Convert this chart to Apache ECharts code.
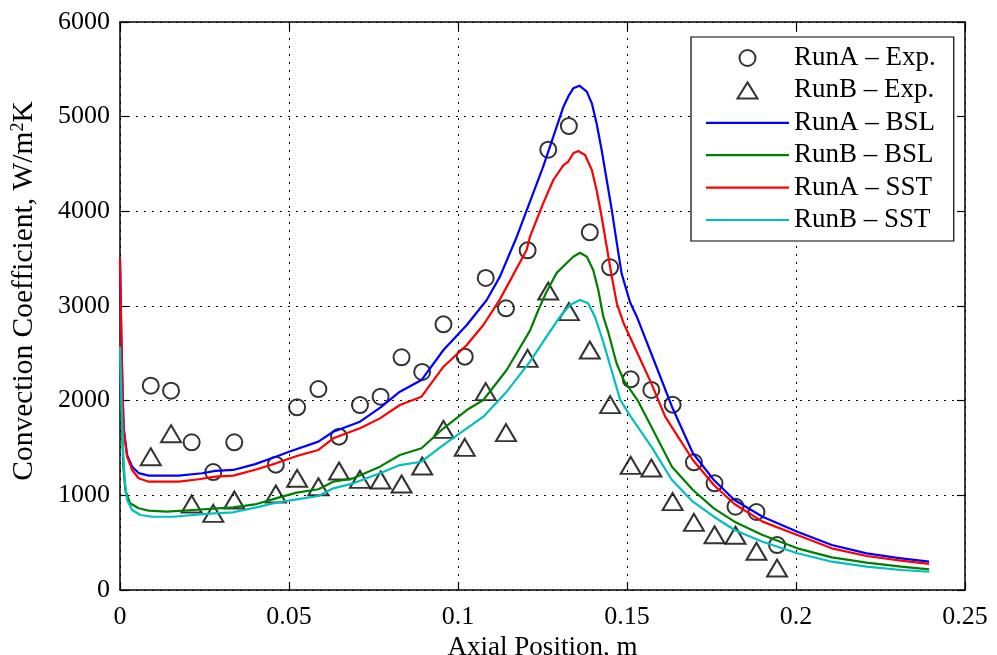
<!DOCTYPE html>
<html>
<head>
<meta charset="utf-8">
<title>Convection Coefficient vs Axial Position</title>
<script src="https://cdn.jsdelivr.net/npm/echarts@6/dist/echarts.min.js"></script>
<style>
  html, body { margin: 0; padding: 0; background: #fff; }
  #chart { width: 997px; height: 655px; }
</style>
</head>
<body>
<div id="chart"></div>
<script>
// Axis ticks
const xTicks = [0, 0.05, 0.1, 0.15, 0.2, 0.25];
const yTicks = [0, 1000, 2000, 3000, 4000, 5000, 6000];

// Series names
const seriesNames = ['RunA – Exp.', 'RunB – Exp.', 'RunA – BSL', 'RunB – BSL', 'RunA – SST', 'RunB – SST'];

// Measured points, axial position (m)
const expX = [0.0091, 0.0151, 0.0212, 0.0276, 0.0338, 0.0461, 0.0524, 0.0587, 0.0648, 0.0710,
              0.0771, 0.0833, 0.0894, 0.0957, 0.1020, 0.1082, 0.1142, 0.1206, 0.1267, 0.1328,
              0.1390, 0.1450, 0.1511, 0.1572, 0.1635, 0.1698, 0.1759, 0.1821, 0.1883, 0.1944];

// Measured convection coefficient, W/m2K
const runAExp = [2158, 2105, 1560, 1246, 1560, 1324, 1930, 2123, 1620, 1954,
                 2042, 2458, 2303, 2806, 2465, 3296, 2976, 3588, 4651, 4901,
                 3778, 3409, 2225, 2113, 1958, 1349, 1127, 880, 824, 475];
const runBExp = [1408, 1651, 908, 810, 951, 1014, 1180, 1091, 1257, 1169,
                 1162, 1120, 1310, 1697, 1507, 2095, 1662, 2447, 3158, 2940,
                 2535, 1958, 1317, 1289, 933, 715, 584, 578, 409, 232];

// Computed profiles, [axial position, coefficient]
const runABSL = [[0,3500],[0.0004,2700],[0.0008,2050],[0.0011,1710],[0.0021,1425],[0.0036,1302],[0.0055,1235],
  [0.0085,1208],[0.0174,1208],[0.0243,1233],[0.0282,1258],[0.0335,1268],[0.0400,1330],[0.0461,1408],
  [0.0500,1461],[0.0587,1567],[0.0631,1672],[0.0710,1778],[0.0771,1930],[0.0828,2095],[0.0892,2218],
  [0.0957,2535],[0.1026,2799],[0.1085,3063],[0.1124,3310],[0.1174,3732],[0.1213,4102],[0.1252,4472],
  [0.1282,4789],[0.1312,5105],[0.1326,5211],[0.1341,5299],[0.1359,5327],[0.1381,5264],[0.1396,5141],
  [0.1410,4930],[0.1425,4648],[0.1440,4331],[0.1455,4014],[0.1470,3662],[0.1484,3345],[0.1509,3040],
  [0.1529,2887],[0.1583,2395],[0.1633,1936],[0.1695,1444],[0.1757,1162],[0.1818,951],[0.1901,774],
  [0.2004,616],[0.2106,475],[0.2209,387],[0.2311,335],[0.2394,299]];

const runBBSL = [[0,2570],[0.0005,1800],[0.0010,1300],[0.0016,1050],[0.0030,916],[0.0055,863],[0.0085,838],
  [0.0138,827],[0.0217,845],[0.0276,860],[0.0335,873],[0.0404,908],[0.0461,968],[0.0523,1028],
  [0.0587,1064],[0.0631,1144],[0.0690,1180],[0.0769,1303],[0.0828,1426],[0.0892,1497],[0.0957,1708],
  [0.1026,1901],[0.1075,2007],[0.1144,2324],[0.1213,2740],[0.1238,2960],[0.1262,3150],[0.1292,3350],
  [0.1321,3451],[0.1341,3521],[0.1361,3563],[0.1381,3521],[0.1400,3380],[0.1415,3169],[0.1430,2887],
  [0.1444,2730],[0.1469,2395],[0.1490,2218],[0.1531,2007],[0.1572,1725],[0.1633,1303],[0.1695,1056],
  [0.1757,863],[0.1818,722],[0.1901,581],[0.2004,440],[0.2106,345],[0.2209,289],[0.2311,246],[0.2394,218]];

const runASST = [[0,3500],[0.0004,2650],[0.0008,2000],[0.0011,1690],[0.0021,1408],[0.0036,1268],[0.0055,1180],
  [0.0085,1144],[0.0174,1144],[0.0233,1170],[0.0282,1197],[0.0335,1208],[0.0400,1270],[0.0461,1338],
  [0.0523,1415],[0.0587,1479],[0.0631,1602],[0.0710,1708],[0.0769,1813],[0.0828,1954],[0.0892,2042],
  [0.0957,2359],[0.1026,2588],[0.1075,2799],[0.1124,3070],[0.1203,3591],[0.1213,3732],[0.1252,4084],
  [0.1282,4331],[0.1312,4489],[0.1326,4524],[0.1341,4613],[0.1356,4637],[0.1376,4595],[0.1396,4437],
  [0.1410,4225],[0.1425,3943],[0.1440,3626],[0.1455,3310],[0.1470,3028],[0.1490,2817],[0.1531,2500],
  [0.1572,2183],[0.1613,1831],[0.1695,1373],[0.1757,1109],[0.1818,908],[0.1901,722],[0.2004,581],
  [0.2106,440],[0.2209,359],[0.2311,310],[0.2394,275]];

const runBSST = [[0,2570],[0.0005,1900],[0.0010,1400],[0.0014,1162],[0.0021,951],[0.0036,845],[0.0060,792],
  [0.0095,774],[0.0158,774],[0.0217,792],[0.0276,810],[0.0335,821],[0.0404,873],[0.0461,922],
  [0.0523,958],[0.0587,993],[0.0631,1074],[0.0690,1127],[0.0769,1233],[0.0828,1320],[0.0892,1355],
  [0.0957,1532],[0.1026,1708],[0.1075,1831],[0.1144,2095],[0.1213,2412],[0.1262,2676],[0.1302,2887],
  [0.1331,3010],[0.1361,3063],[0.1385,3028],[0.1405,2887],[0.1428,2641],[0.1454,2324],[0.1480,2007],
  [0.1511,1831],[0.1572,1514],[0.1633,1162],[0.1695,933],[0.1757,774],[0.1818,634],[0.1901,510],
  [0.2004,388],[0.2106,299],[0.2209,246],[0.2311,211],[0.2394,193]];

const lineColors = ['#0000ff', '#008000', '#ff0000', '#00bfbf'];

const FONT = '"Liberation Serif", "Times New Roman", serif';
const chart = echarts.init(document.getElementById('chart'), null, { renderer: 'canvas' });

const pairs = (xs, ys) => xs.map((x, i) => [x, ys[i]]);
const fmtX = v => String(+v.toFixed(2));

const axisLineStyle = { color: '#000', width: 1.5 };
const gridLine = { show: true, lineStyle: { color: '#000', width: 1, type: [2, 6] } };
const tickIn = { show: true, inside: true, length: 8, lineStyle: { color: '#000', width: 1.2 } };
const openMarker = { color: 'rgba(255,255,255,0)', borderColor: '#000', borderWidth: 2 };
// Legend keys: a thin bar for the curves, an outlined triangle for RunB points
const LINE_ICON = 'path://M0,0 H100 V2.6 H0 Z';
const TRI_ICON = 'path://M10,0 L20,16 L0,16 Z';

function lineSeries(name, data, color) {
  return {
    name, type: 'line', data, xAxisIndex: 0, yAxisIndex: 0,
    symbol: 'none', smooth: false, clip: true,
    lineStyle: { color, width: 2.2, join: 'round' }, itemStyle: { color },
    emphasis: { disabled: true }, z: 3
  };
}

const legendData = [
  { name: seriesNames[0], icon: 'circle', itemStyle: openMarker },
  { name: seriesNames[1], icon: TRI_ICON, itemStyle: openMarker },
  { name: seriesNames[2], icon: LINE_ICON, itemStyle: { color: lineColors[0], borderWidth: 0 } },
  { name: seriesNames[3], icon: LINE_ICON, itemStyle: { color: lineColors[1], borderWidth: 0 } },
  { name: seriesNames[4], icon: LINE_ICON, itemStyle: { color: lineColors[2], borderWidth: 0 } },
  { name: seriesNames[5], icon: LINE_ICON, itemStyle: { color: lineColors[3], borderWidth: 0 } }
];

const option = {
  animation: false,
  backgroundColor: '#fff',
  textStyle: { fontFamily: FONT },
  grid: { left: 120, right: 32, top: 22, bottom: 65, containLabel: false, outerBoundsMode: 'none' },
  legend: {
    data: legendData,
    orient: 'vertical',
    left: 691, top: 37,
    backgroundColor: '#fff',
    borderColor: '#000', borderWidth: 1.2, borderRadius: 0,
    padding: [6, 18, 6, 15],
    itemWidth: 83, itemHeight: 16, itemGap: 2.4,
    symbolKeepAspect: true,
    textStyle: { fontFamily: FONT, fontSize: 27, color: '#000', lineHeight: 30 },
    selectedMode: false,
    z: 10
  },
  xAxis: [{
    type: 'value', min: xTicks[0], max: xTicks[xTicks.length - 1], interval: 0.05,
    position: 'bottom',
    name: 'Axial Position, m', nameLocation: 'middle', nameGap: 44,
    nameTextStyle: { fontFamily: FONT, fontSize: 27, color: '#000' },
    axisLine: { show: true, onZero: false, lineStyle: axisLineStyle },
    axisTick: tickIn,
    axisLabel: { show: true, margin: 14, fontFamily: FONT, fontSize: 26, color: '#000', formatter: fmtX },
    splitLine: gridLine
  }, {
    type: 'value', min: xTicks[0], max: xTicks[xTicks.length - 1], interval: 0.05,
    position: 'top',
    axisLine: { show: true, onZero: false, lineStyle: axisLineStyle },
    axisTick: tickIn, axisLabel: { show: false }, splitLine: { show: false }
  }],
  yAxis: [{
    type: 'value', min: yTicks[0], max: yTicks[yTicks.length - 1], interval: 1000,
    position: 'left',
    name: 'Convection Coefficient, W/m{sup|2}K', nameLocation: 'middle', nameGap: 80,
    nameTextStyle: {
      fontFamily: FONT, fontSize: 29.5, color: '#000', lineHeight: 31, padding: [0, 0, 0, 30],
      rich: { sup: { fontFamily: FONT, fontSize: 18, lineHeight: 18, verticalAlign: 'top', color: '#000' } }
    },
    axisLine: { show: true, onZero: false, lineStyle: axisLineStyle },
    axisTick: tickIn,
    axisLabel: { show: true, margin: 10, fontFamily: FONT, fontSize: 26, color: '#000', formatter: v => String(v) },
    splitLine: gridLine
  }, {
    type: 'value', min: yTicks[0], max: yTicks[yTicks.length - 1], interval: 1000,
    position: 'right',
    axisLine: { show: true, onZero: false, lineStyle: axisLineStyle },
    axisTick: tickIn, axisLabel: { show: false }, splitLine: { show: false }
  }],
  series: [
    {
      name: seriesNames[0], type: 'scatter', data: pairs(expX, runAExp),
      symbol: 'circle', symbolSize: 16,
      itemStyle: openMarker,
      emphasis: { disabled: true }, z: 2
    },
    {
      name: seriesNames[1], type: 'scatter', data: pairs(expX, runBExp),
      symbol: 'triangle', symbolSize: [20, 17],
      itemStyle: openMarker,
      emphasis: { disabled: true }, z: 2
    },
    lineSeries(seriesNames[2], runABSL, lineColors[0]),
    lineSeries(seriesNames[3], runBBSL, lineColors[1]),
    lineSeries(seriesNames[4], runASST, lineColors[2]),
    lineSeries(seriesNames[5], runBSST, lineColors[3])
  ]
};

chart.setOption(option);
</script>
</body>
</html>
